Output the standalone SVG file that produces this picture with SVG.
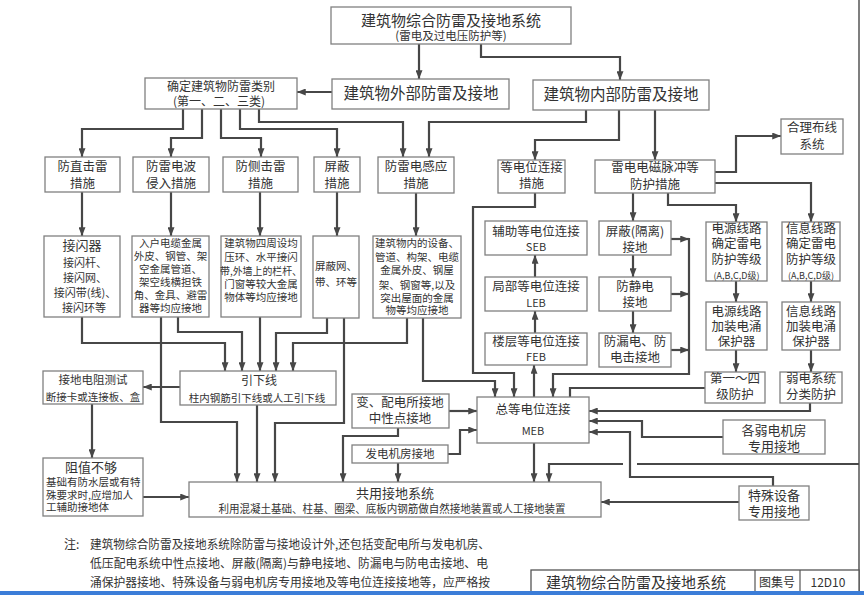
<svg xmlns="http://www.w3.org/2000/svg" width="864" height="595" viewBox="0 0 864 595">
<style>
.bx{fill:#fff;stroke:#808080;stroke-width:1.3}
.c{fill:none;stroke:#474747;stroke-width:2.2}
.a{marker-end:url(#ah)}
text{font-family:"Noto Sans CJK SC","Noto Sans",sans-serif;fill:#333;text-anchor:middle}
.s15{font-size:15.5px}
.s13{font-size:13px}
.s12{font-size:12.5px}
.s11{font-size:11px}
.s10{font-size:10.5px}
.l{text-anchor:start}
</style>
<defs>
<marker id="ah" viewBox="0 0 10 8" refX="10" refY="4" markerWidth="9" markerHeight="7" markerUnits="userSpaceOnUse" orient="auto">
<path d="M0,0 L10,4 L0,8 z" fill="#474747"/>
</marker>
</defs>
<rect width="864" height="595" fill="#fff"/>
<line x1="859" y1="0" x2="859" y2="591" stroke="#555" stroke-width="1.5"/>

<g id="connectors">
<path class="c a" d="M419,44 V79"/>
<path class="c a" d="M481,44 V57 H620 V80"/>
<path class="c a" d="M332,92 H297"/>
<path class="c a" d="M183,109 V129 H82 V157"/>
<path class="c a" d="M202,109 V138 H171 V157"/>
<path class="c a" d="M221,109 V138 H261 V157"/>
<path class="c a" d="M240,109 V129 H337 V157"/>
<path class="c a" d="M259,109 V122 H403 V157"/>
<path class="c a" d="M586,110 V122 H429 V157"/>
<path class="c a" d="M619,110 V140 H535 V160"/>
<path class="c a" d="M655,110 V160"/>
<path class="c a" d="M82,192 V236"/>
<path class="c a" d="M171,192 V236"/>
<path class="c a" d="M260,192 V236"/>
<path class="c a" d="M337,192 V236"/>
<path class="c a" d="M416,193 V236"/>
<path class="c a" d="M715,172 H736 V136 H781"/>
<path class="c a" d="M715,183 H811 V222"/>
<path class="c a" d="M633,193 V221"/>
<path class="c a" d="M668,193 V205 H736 V222"/>
<path class="c a" d="M633,255 V277"/>
<path class="c a" d="M633,311 V333"/>
<path class="c a" d="M736,281 V302"/>
<path class="c a" d="M811,281 V302"/>
<path class="c a" d="M736,350 V372"/>
<path class="c a" d="M811,350 V372"/>
<path class="c a" d="M671,239 H689"/>
<path class="c a" d="M671,294 H689"/>
<path class="c a" d="M671,350 H689"/>
<path class="c a" d="M689,238 V374 H553 V397"/>
<path class="c" d="M705,388 H570 V397"/>
<path class="c a" d="M810,403 V411 H589"/>
<path class="c a" d="M723,437 H642 V421 H589"/>
<path class="c a" d="M773,486 V477 H630 V432 H589"/>
<path class="c a" d="M739,502 H601"/>
<path class="c a" d="M534,443 V482"/>
<path class="c" d="M859,464 H637"/>
<path class="c a" d="M623,464 H549 V482"/>
<path class="c a" d="M534,397 V365"/>
<path class="c a" d="M535,333 V311"/>
<path class="c a" d="M535,277 V255"/>
<path class="c a" d="M535,193 V207 H473 V373 H514 V397"/>
<path class="c a" d="M423,318 V381 H495 V397"/>
<path class="c a" d="M449,411 H477"/>
<path class="c a" d="M448,454 H460 V430 H477"/>
<path class="c a" d="M398,428 V436 H343 V482"/>
<path class="c a" d="M398,463 V482"/>
<path class="c a" d="M344,318 V423 H275 V482"/>
<path class="c a" d="M257,405 V482"/>
<path class="c a" d="M161,317 V422 H237 V482"/>
<path class="c a" d="M180,387 H143"/>
<path class="c a" d="M92,404 V458"/>
<path class="c a" d="M143,497 H189"/>
<path class="c a" d="M82,317 V343 H225 V371"/>
<path class="c a" d="M178,317 V332 H242 V371"/>
<path class="c a" d="M260,317 V371"/>
<path class="c a" d="M327,318 V333 H276 V371"/>
<path class="c a" d="M407,318 V343 H293 V371"/>
</g>

<g id="n_title"><rect class="bx" x="331" y="7" width="240" height="37"/>
<text x="451" y="26" style="font-size:15px">建筑物综合防雷及接地系统</text>
<text x="451" y="40" style="font-size:11.5px">(雷电及过电压防护等)</text></g>
<g id="n_ext"><rect class="bx" x="332" y="79" width="177" height="30"/>
<text class="s15" x="421" y="99">建筑物外部防雷及接地</text></g>
<g id="n_int"><rect class="bx" x="533" y="80" width="176" height="30"/>
<text class="s15" x="621" y="100">建筑物内部防雷及接地</text></g>
<g id="n_cat"><rect class="bx" x="145" y="78" width="152" height="31"/>
<text x="221" y="91" style="font-size:12px">确定建筑物防雷类别</text>
<text x="219" y="106" style="font-size:12px">(第一、二、三类)</text></g>

<g id="n_zjl"><rect class="bx" x="45" y="157" width="75" height="35"/>
<text class="s12" x="82.5" y="171">防直击雷</text><text class="s12" x="82.5" y="188">措施</text></g>
<g id="n_ldb"><rect class="bx" x="133" y="157" width="76" height="35"/>
<text class="s12" x="171" y="171">防雷电波</text><text class="s12" x="171" y="188">侵入措施</text></g>
<g id="n_cjl"><rect class="bx" x="223" y="157" width="75" height="35"/>
<text class="s12" x="260.5" y="171">防侧击雷</text><text class="s12" x="260.5" y="188">措施</text></g>
<g id="n_pb"><rect class="bx" x="314" y="157" width="46" height="35"/>
<text class="s12" x="337" y="171">屏蔽</text><text class="s12" x="337" y="188">措施</text></g>
<g id="n_gy"><rect class="bx" x="378" y="157" width="76" height="36"/>
<text class="s12" x="416" y="171">防雷电感应</text><text class="s12" x="416" y="188">措施</text></g>
<g id="n_ddw"><rect class="bx" x="498" y="160" width="67" height="33"/>
<text class="s12" x="531.5" y="172">等电位连接</text><text class="s12" x="531.5" y="188">措施</text></g>
<g id="n_dcmc"><rect class="bx" x="595" y="160" width="120" height="33"/>
<text class="s12" x="655" y="172">雷电电磁脉冲等</text><text class="s12" x="655" y="189">防护措施</text></g>
<g id="n_hlbx"><rect class="bx" x="781" y="119" width="62" height="35"/>
<text class="s12" x="812" y="132">合理布线</text><text class="s12" x="812" y="149">系统</text></g>

<g id="n_jsq"><rect class="bx" x="44" y="236" width="76" height="81"/>
<text class="s13" x="82" y="250">接闪器</text>
<text class="s11" x="85" y="267">接闪杆、</text>
<text class="s11" x="85" y="282">接闪网、</text>
<text class="s11" x="85" y="297">接闪带(线)、</text>
<text class="s11" x="84" y="312">接闪环等</text></g>
<g id="n_rh"><rect class="bx" x="132" y="236" width="77" height="81"/>
<text class="s10" x="170.5" y="247">入户电缆金属</text>
<text class="s10" x="170.5" y="260">外皮、钢管、架</text>
<text class="s10" x="170.5" y="273">空金属管道、</text>
<text class="s10" x="170.5" y="286">架空线横担铁</text>
<text class="s10" x="170.5" y="299">角、金具、避雷</text>
<text class="s10" x="170.5" y="312">器等均应接地</text></g>
<g id="n_sz"><rect class="bx" x="221" y="236" width="80" height="81"/>
<text class="s10" x="261" y="247">建筑物四周设均</text>
<text class="s10" x="261" y="261">压环、水平接闪</text>
<text class="s10" x="261" y="275" textLength="82" lengthAdjust="spacingAndGlyphs">带,外墙上的栏杆、</text>
<text class="s10" x="261" y="288">门窗等较大金属</text>
<text class="s10" x="261" y="301">物体等均应接地</text></g>
<g id="n_pbw"><rect class="bx" x="313" y="236" width="46" height="82"/>
<text class="s10" x="336" y="270">屏蔽网、</text>
<text class="s10" x="336" y="286">带、环等</text></g>
<g id="n_nsb"><rect class="bx" x="373" y="236" width="88" height="82"/>
<text class="s10" x="417" y="247">建筑物内的设备、</text>
<text class="s10" x="417" y="261">管道、构架、电缆</text>
<text class="s10" x="417" y="274">金属外皮、钢屋</text>
<text class="s10" x="417" y="289">架、钢窗等,以及</text>
<text class="s10" x="417" y="302">突出屋面的金属</text>
<text class="s10" x="417" y="314">物等均应接地</text></g>

<g id="n_seb"><rect class="bx" x="485" y="221" width="102" height="34"/>
<text class="s12" x="536" y="236">辅助等电位连接</text><text class="s11" x="536" y="251">SEB</text></g>
<g id="n_leb"><rect class="bx" x="485" y="277" width="102" height="34"/>
<text class="s12" x="536" y="291">局部等电位连接</text><text class="s11" x="536" y="307">LEB</text></g>
<g id="n_feb"><rect class="bx" x="485" y="333" width="102" height="32"/>
<text class="s12" x="536" y="346">楼层等电位连接</text><text class="s11" x="536" y="361">FEB</text></g>
<g id="n_pbgl"><rect class="bx" x="599" y="221" width="72" height="34"/>
<text class="s12" x="635" y="236">屏蔽(隔离)</text><text class="s12" x="635" y="252">接地</text></g>
<g id="n_fjd"><rect class="bx" x="599" y="277" width="72" height="34"/>
<text class="s12" x="635" y="291">防静电</text><text class="s12" x="635" y="307">接地</text></g>
<g id="n_fld"><rect class="bx" x="599" y="333" width="72" height="34"/>
<text class="s12" x="635" y="346">防漏电、防</text><text class="s12" x="635" y="362">电击接地</text></g>

<g id="n_dyqd"><rect class="bx" x="706" y="222" width="61" height="59"/>
<text class="s12" x="736.5" y="233">电源线路</text><text class="s12" x="736.5" y="248">确定雷电</text>
<text class="s12" x="736.5" y="264">防护等级</text><text x="736.5" y="279" style="font-size:9px">(A,B,C,D级)</text></g>
<g id="n_xxqd"><rect class="bx" x="782" y="222" width="58" height="59"/>
<text class="s12" x="811" y="233">信息线路</text><text class="s12" x="811" y="248">确定雷电</text>
<text class="s12" x="811" y="264">防护等级</text><text x="811" y="279" style="font-size:9px">(A,B,C,D级)</text></g>
<g id="n_dyjz"><rect class="bx" x="706" y="302" width="61" height="48"/>
<text class="s12" x="736.5" y="316">电源线路</text><text class="s12" x="736.5" y="331">加装电涌</text><text class="s12" x="736.5" y="346">保护器</text></g>
<g id="n_xxjz"><rect class="bx" x="782" y="302" width="58" height="48"/>
<text class="s12" x="811" y="316">信息线路</text><text class="s12" x="811" y="331">加装电涌</text><text class="s12" x="811" y="346">保护器</text></g>
<g id="n_dyfh"><rect class="bx" x="705" y="372" width="60" height="31"/>
<text class="s12" x="735" y="383">第一～四</text><text class="s12" x="735" y="399">级防护</text></g>
<g id="n_rdfl"><rect class="bx" x="780" y="372" width="62" height="31"/>
<text class="s12" x="811" y="383">弱电系统</text><text class="s12" x="811" y="399">分类防护</text></g>

<g id="n_ydx"><rect class="bx" x="180" y="371" width="156" height="34"/>
<text x="259" y="385" style="font-size:12px">引下线</text>
<text class="s10" x="257" y="402">柱内钢筋引下线或人工引下线</text></g>
<g id="n_jddz"><rect class="bx" x="43" y="371" width="100" height="33"/>
<text x="93" y="384" style="font-size:11.5px">接地电阻测试</text>
<text class="s10" x="93" y="401">断接卡或连接板、盒</text></g>
<g id="n_zzbg"><rect class="bx" x="43" y="458" width="100" height="58"/>
<text class="s13" x="91" y="472">阻值不够</text>
<text class="s10 l" x="46" y="486">基础有防水层或有特</text>
<text class="s10 l" x="46" y="499">殊要求时,应增加人</text>
<text class="s10 l" x="46" y="511">工辅助接地体</text></g>
<g id="n_meb"><rect class="bx" x="477" y="397" width="112" height="46"/>
<text class="s12" x="533" y="414">总等电位连接</text><text class="s11" x="533" y="435">MEB</text></g>
<g id="n_bpd"><rect class="bx" x="352" y="394" width="97" height="34"/>
<text class="s12" x="400" y="407">变、配电所接地</text><text class="s12" x="400" y="423">中性点接地</text></g>
<g id="n_fdj"><rect class="bx" x="352" y="445" width="96" height="18"/>
<text x="400" y="458" style="font-size:11.5px">发电机房接地</text></g>
<g id="n_grjf"><rect class="bx" x="723" y="420" width="102" height="34"/>
<text class="s13" x="774" y="435">各弱电机房</text><text class="s13" x="774" y="451">专用接地</text></g>
<g id="n_tssb"><rect class="bx" x="739" y="486" width="70" height="34"/>
<text class="s13" x="774" y="500">特殊设备</text><text class="s13" x="774" y="516">专用接地</text></g>
<g id="n_gyjd"><rect class="bx" x="189" y="482" width="412" height="35"/>
<text class="s13" x="395" y="498">共用接地系统</text>
<text x="392" y="513" style="font-size:10.8px" textLength="347" lengthAdjust="spacingAndGlyphs">利用混凝土基础、柱基、圈梁、底板内钢筋做自然接地装置或人工接地装置</text></g>

<g id="notes">
<text class="l" x="64" y="549" style="font-size:12px">注:</text>
<text class="l" x="90" y="549" style="font-size:12px" textLength="400" lengthAdjust="spacingAndGlyphs">建筑物综合防雷及接地系统除防雷与接地设计外,还包括变配电所与发电机房、</text>
<text class="l" x="90" y="568" style="font-size:12px" textLength="398" lengthAdjust="spacingAndGlyphs">低压配电系统中性点接地、屏蔽(隔离)与静电接地、防漏电与防电击接地、电</text>
<text class="l" x="90" y="587" style="font-size:12px" textLength="400" lengthAdjust="spacingAndGlyphs">涌保护器接地、特殊设备与弱电机房专用接地及等电位连接接地等，应严格按</text>
</g>
<g id="titleblock">
<rect x="531" y="570" width="328" height="30" fill="#fff" stroke="#555" stroke-width="1.3"/>
<line x1="755" y1="570" x2="755" y2="595" stroke="#555" stroke-width="1.2"/>
<line x1="800" y1="570" x2="800" y2="595" stroke="#555" stroke-width="1.2"/>
<text class="l" x="546" y="588" style="font-size:15px">建筑物综合防雷及接地系统</text>
<text x="777" y="587" style="font-size:12px">图集号</text>
<text x="828" y="587" style="font-size:12px">12D10</text>
</g>
<rect x="0" y="591" width="864" height="4" fill="#3b7dd8"/>
</svg>
